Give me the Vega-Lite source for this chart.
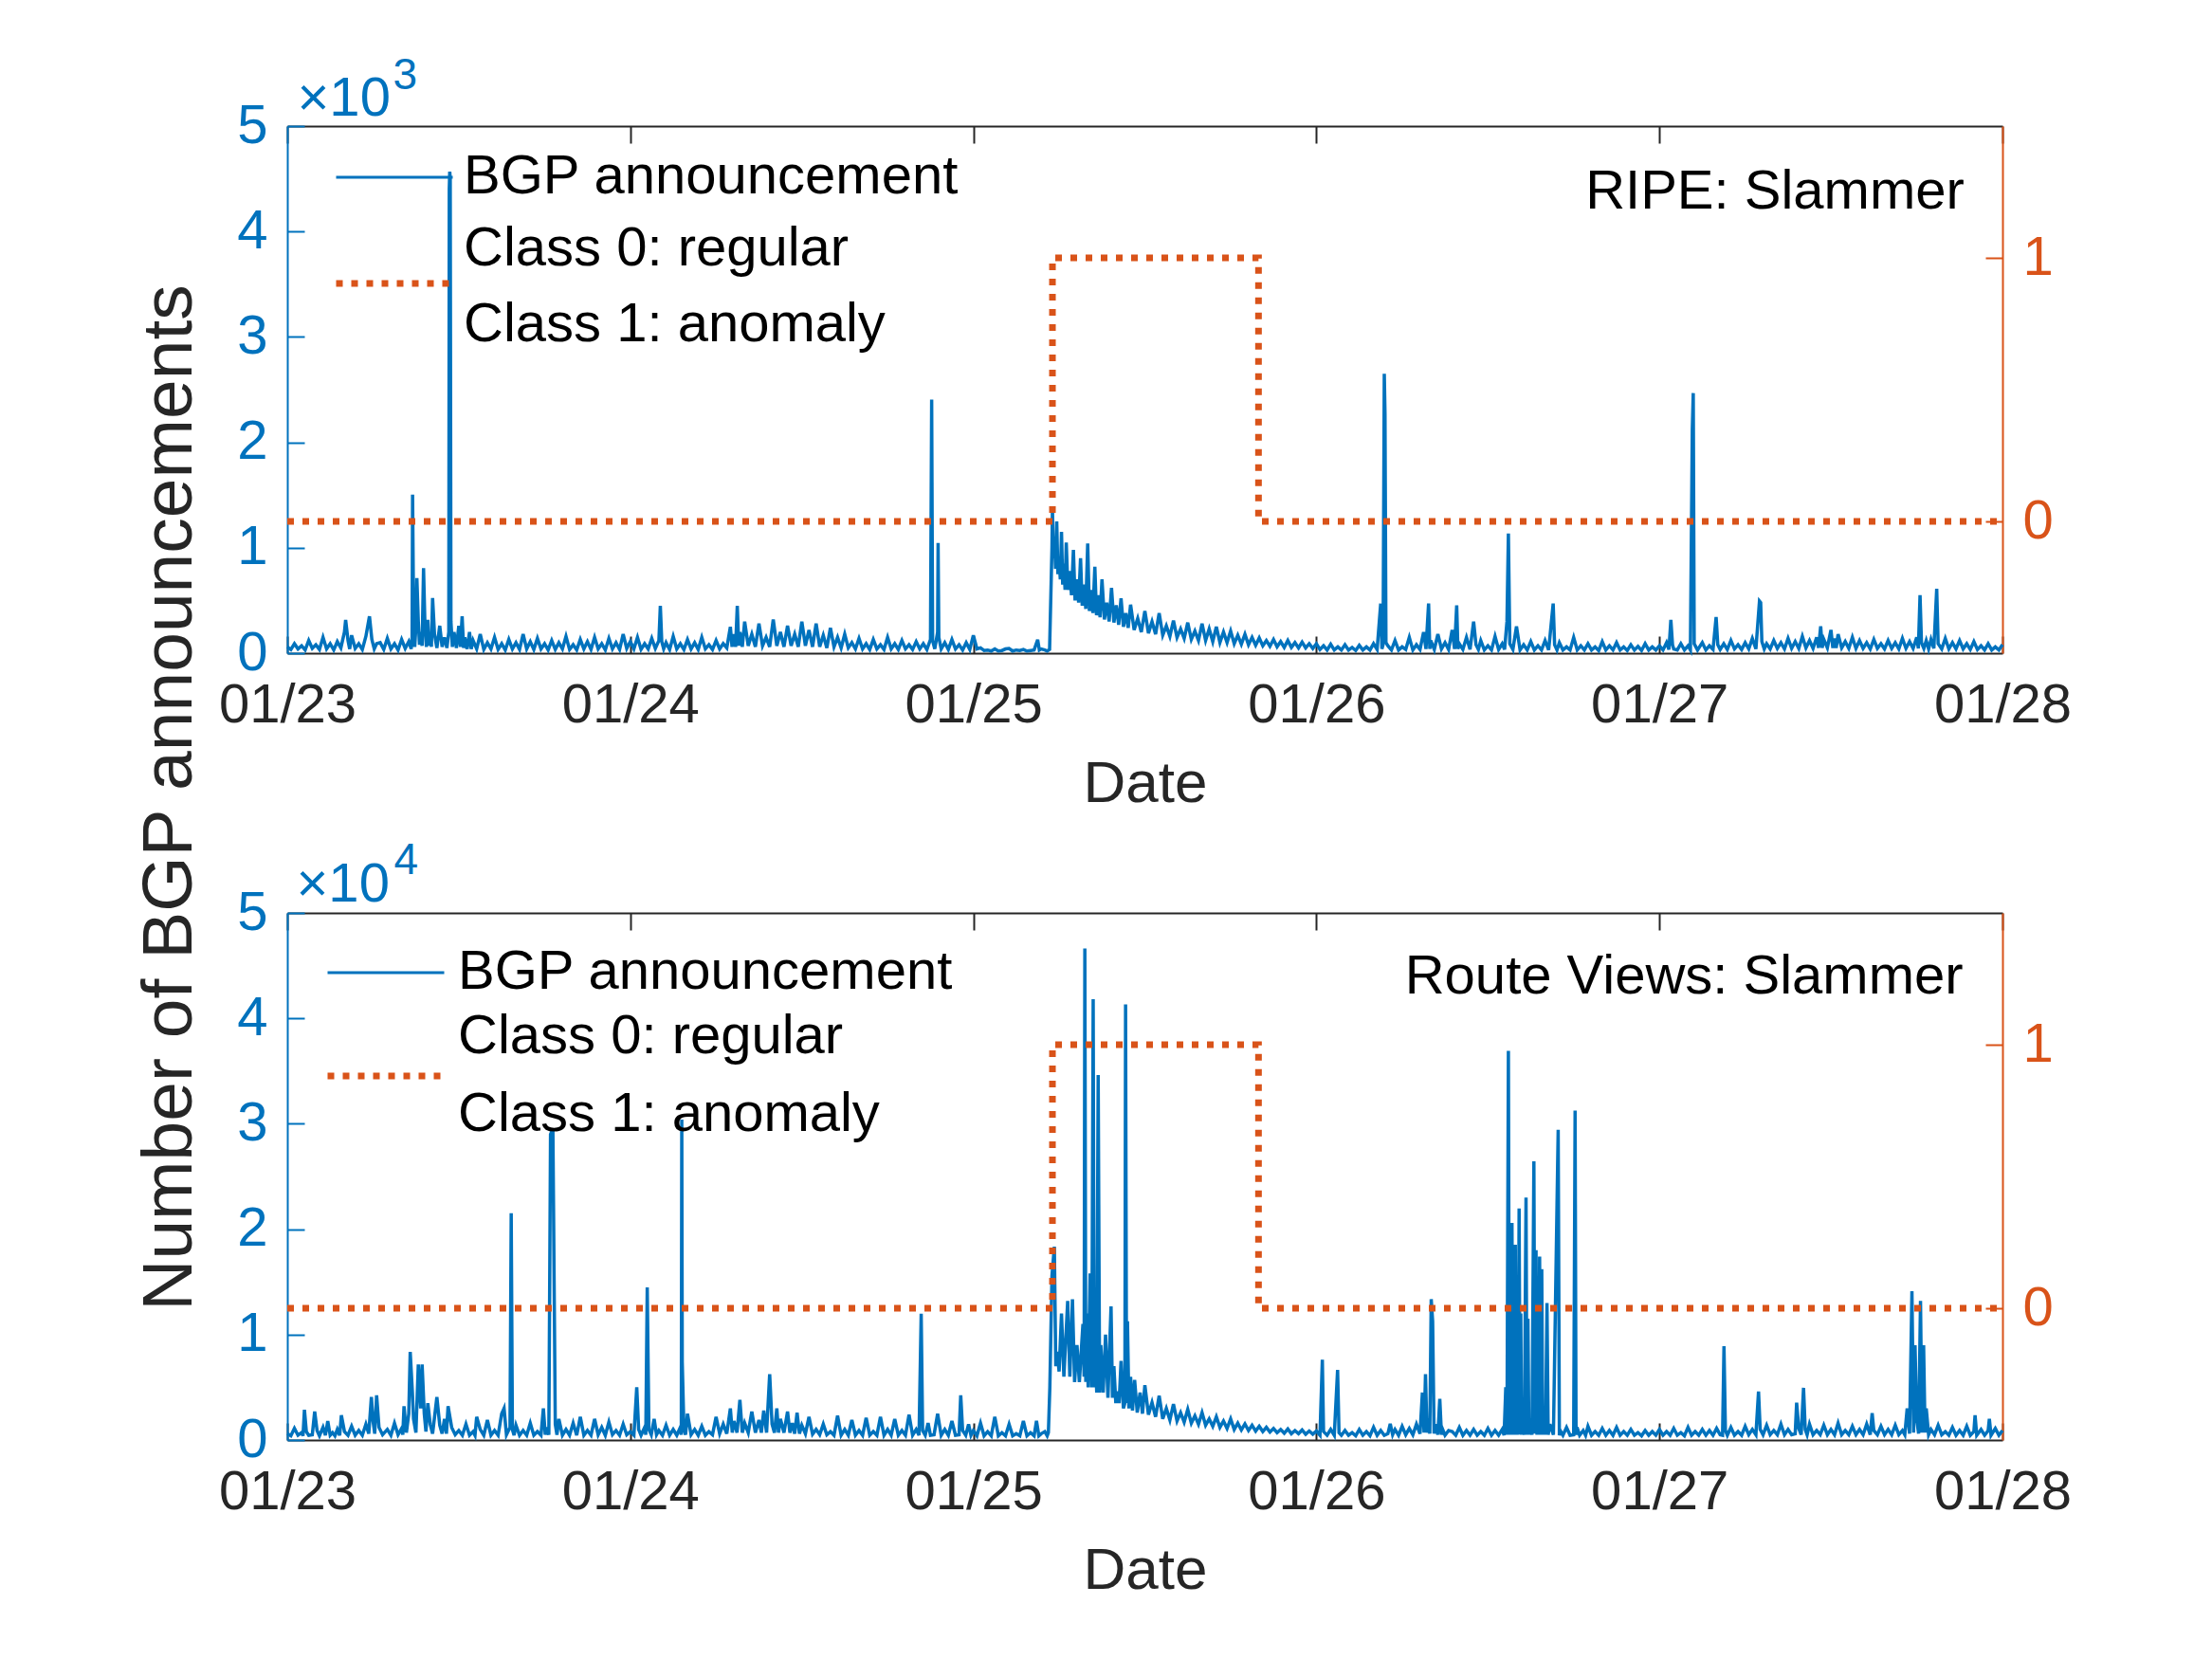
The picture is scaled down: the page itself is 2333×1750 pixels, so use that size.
{
  "$schema": "https://vega.github.io/schema/vega-lite/v6.json",
  "background": "white",
  "padding": {"left": 140, "top": 56, "right": 20, "bottom": 20},
  "bounds": "flush",
  "spacing": 274,
  "config": {
    "font": "Liberation Sans",
    "view": {"stroke": null},
    "axis": {
      "grid": false,
      "labelFontSize": 58,
      "tickSize": -18,
      "tickWidth": 2,
      "domainWidth": 2,
      "titleFontWeight": "normal",
      "labelFlush": false,
      "labelOverlap": false
    }
  },
  "datasets": {
    "cls": [
      {"t": "2003-01-23T00:00", "c": 0},
      {"t": "2003-01-25T05:32", "c": 1},
      {"t": "2003-01-25T19:57", "c": 0},
      {"t": "2003-01-28T00:00", "c": 0}
    ],
    "ripe": [
      {"t":"2003-01-23T00:00","v":60},{"t":"2003-01-23T00:15","v":35},{"t":"2003-01-23T00:30","v":90},{"t":"2003-01-23T00:45","v":40},
      {"t":"2003-01-23T01:00","v":70},{"t":"2003-01-23T01:15","v":30},{"t":"2003-01-23T01:30","v":120},{"t":"2003-01-23T01:45","v":45},
      {"t":"2003-01-23T02:00","v":80},{"t":"2003-01-23T02:15","v":35},{"t":"2003-01-23T02:30","v":150},{"t":"2003-01-23T02:45","v":40},
      {"t":"2003-01-23T03:00","v":90},{"t":"2003-01-23T03:15","v":30},{"t":"2003-01-23T03:30","v":110},{"t":"2003-01-23T03:45","v":50},
      {"t":"2003-01-23T04:00","v":200},{"t":"2003-01-23T04:05","v":316},{"t":"2003-01-23T04:15","v":120},{"t":"2003-01-23T04:22","v":40},
      {"t":"2003-01-23T04:30","v":170},{"t":"2003-01-23T04:45","v":45},{"t":"2003-01-23T05:00","v":90},{"t":"2003-01-23T05:15","v":35},
      {"t":"2003-01-23T05:30","v":160},{"t":"2003-01-23T05:45","v":350},{"t":"2003-01-23T05:55","v":130},{"t":"2003-01-23T06:05","v":40},
      {"t":"2003-01-23T06:15","v":90},{"t":"2003-01-23T06:30","v":100},{"t":"2003-01-23T06:45","v":35},{"t":"2003-01-23T07:00","v":140},
      {"t":"2003-01-23T07:15","v":40},{"t":"2003-01-23T07:30","v":90},{"t":"2003-01-23T07:45","v":30},{"t":"2003-01-23T08:00","v":130},
      {"t":"2003-01-23T08:15","v":45},{"t":"2003-01-23T08:30","v":110},{"t":"2003-01-23T08:40","v":40},{"t":"2003-01-23T08:44","v":150},
      {"t":"2003-01-23T08:46","v":1504},{"t":"2003-01-23T08:50","v":400},{"t":"2003-01-23T08:55","v":60},{"t":"2003-01-23T09:00","v":250},
      {"t":"2003-01-23T09:04","v":712},{"t":"2003-01-23T09:10","v":300},{"t":"2003-01-23T09:15","v":80},{"t":"2003-01-23T09:20","v":200},
      {"t":"2003-01-23T09:26","v":70},{"t":"2003-01-23T09:32","v":806},{"t":"2003-01-23T09:38","v":250},{"t":"2003-01-23T09:44","v":60},
      {"t":"2003-01-23T09:50","v":316},{"t":"2003-01-23T09:55","v":70},{"t":"2003-01-23T10:00","v":200},{"t":"2003-01-23T10:05","v":60},
      {"t":"2003-01-23T10:10","v":523},{"t":"2003-01-23T10:18","v":180},{"t":"2003-01-23T10:28","v":50},{"t":"2003-01-23T10:40","v":260},
      {"t":"2003-01-23T10:50","v":60},{"t":"2003-01-23T11:00","v":150},{"t":"2003-01-23T11:10","v":50},{"t":"2003-01-23T11:18","v":200},
      {"t":"2003-01-23T11:20","v":4400},{"t":"2003-01-23T11:22","v":4567},{"t":"2003-01-23T11:24","v":4500},{"t":"2003-01-23T11:27","v":300},
      {"t":"2003-01-23T11:33","v":60},{"t":"2003-01-23T11:40","v":200},{"t":"2003-01-23T11:50","v":50},{"t":"2003-01-23T12:00","v":260},
      {"t":"2003-01-23T12:07","v":60},{"t":"2003-01-23T12:14","v":350},{"t":"2003-01-23T12:20","v":50},{"t":"2003-01-23T12:25","v":150},
      {"t":"2003-01-23T12:35","v":40},{"t":"2003-01-23T12:45","v":200},{"t":"2003-01-23T12:52","v":40},{"t":"2003-01-23T13:00","v":120},
      {"t":"2003-01-23T13:15","v":40},{"t":"2003-01-23T13:30","v":180},{"t":"2003-01-23T13:45","v":35},{"t":"2003-01-23T14:00","v":100},
      {"t":"2003-01-23T14:15","v":40},{"t":"2003-01-23T14:30","v":150},{"t":"2003-01-23T14:45","v":35},{"t":"2003-01-23T15:00","v":90},
      {"t":"2003-01-23T15:15","v":30},{"t":"2003-01-23T15:30","v":130},{"t":"2003-01-23T15:45","v":40},{"t":"2003-01-23T16:00","v":100},
      {"t":"2003-01-23T16:15","v":35},{"t":"2003-01-23T16:30","v":180},{"t":"2003-01-23T16:45","v":40},{"t":"2003-01-23T17:00","v":110},
      {"t":"2003-01-23T17:15","v":35},{"t":"2003-01-23T17:30","v":140},{"t":"2003-01-23T17:45","v":40},{"t":"2003-01-23T18:00","v":90},
      {"t":"2003-01-23T18:15","v":30},{"t":"2003-01-23T18:30","v":120},{"t":"2003-01-23T18:45","v":35},{"t":"2003-01-23T19:00","v":100},
      {"t":"2003-01-23T19:15","v":40},{"t":"2003-01-23T19:30","v":160},{"t":"2003-01-23T19:45","v":35},{"t":"2003-01-23T20:00","v":80},
      {"t":"2003-01-23T20:15","v":30},{"t":"2003-01-23T20:30","v":130},{"t":"2003-01-23T20:45","v":40},{"t":"2003-01-23T21:00","v":110},
      {"t":"2003-01-23T21:15","v":35},{"t":"2003-01-23T21:30","v":150},{"t":"2003-01-23T21:45","v":40},{"t":"2003-01-23T22:00","v":90},
      {"t":"2003-01-23T22:15","v":30},{"t":"2003-01-23T22:30","v":140},{"t":"2003-01-23T22:45","v":40},{"t":"2003-01-23T23:00","v":100},
      {"t":"2003-01-23T23:15","v":35},{"t":"2003-01-23T23:30","v":180},{"t":"2003-01-23T23:45","v":45},
      {"t":"2003-01-24T00:00","v":110},{"t":"2003-01-24T00:15","v":40},{"t":"2003-01-24T00:30","v":150},{"t":"2003-01-24T00:45","v":35},
      {"t":"2003-01-24T01:00","v":90},{"t":"2003-01-24T01:15","v":40},{"t":"2003-01-24T01:30","v":140},{"t":"2003-01-24T01:45","v":45},
      {"t":"2003-01-24T02:00","v":120},{"t":"2003-01-24T02:06","v":448},{"t":"2003-01-24T02:12","v":110},{"t":"2003-01-24T02:20","v":40},
      {"t":"2003-01-24T02:30","v":100},{"t":"2003-01-24T02:45","v":35},{"t":"2003-01-24T03:00","v":160},{"t":"2003-01-24T03:15","v":40},
      {"t":"2003-01-24T03:30","v":90},{"t":"2003-01-24T03:45","v":35},{"t":"2003-01-24T04:00","v":130},{"t":"2003-01-24T04:15","v":40},
      {"t":"2003-01-24T04:30","v":100},{"t":"2003-01-24T04:45","v":35},{"t":"2003-01-24T05:00","v":150},{"t":"2003-01-24T05:15","v":40},
      {"t":"2003-01-24T05:30","v":80},{"t":"2003-01-24T05:45","v":35},{"t":"2003-01-24T06:00","v":120},{"t":"2003-01-24T06:15","v":40},
      {"t":"2003-01-24T06:30","v":90},{"t":"2003-01-24T06:45","v":50},{"t":"2003-01-24T07:00","v":250},{"t":"2003-01-24T07:07","v":60},
      {"t":"2003-01-24T07:15","v":180},{"t":"2003-01-24T07:22","v":60},{"t":"2003-01-24T07:29","v":448},{"t":"2003-01-24T07:35","v":70},
      {"t":"2003-01-24T07:40","v":200},{"t":"2003-01-24T07:50","v":60},{"t":"2003-01-24T08:00","v":300},{"t":"2003-01-24T08:15","v":70},
      {"t":"2003-01-24T08:30","v":180},{"t":"2003-01-24T08:45","v":60},{"t":"2003-01-24T09:00","v":280},{"t":"2003-01-24T09:15","v":70},
      {"t":"2003-01-24T09:30","v":150},{"t":"2003-01-24T09:45","v":60},{"t":"2003-01-24T10:00","v":320},{"t":"2003-01-24T10:15","v":70},
      {"t":"2003-01-24T10:30","v":200},{"t":"2003-01-24T10:45","v":60},{"t":"2003-01-24T11:00","v":260},{"t":"2003-01-24T11:15","v":70},
      {"t":"2003-01-24T11:30","v":180},{"t":"2003-01-24T11:45","v":60},{"t":"2003-01-24T12:00","v":300},{"t":"2003-01-24T12:15","v":70},
      {"t":"2003-01-24T12:30","v":220},{"t":"2003-01-24T12:45","v":60},{"t":"2003-01-24T13:00","v":280},{"t":"2003-01-24T13:15","v":60},
      {"t":"2003-01-24T13:30","v":170},{"t":"2003-01-24T13:45","v":50},{"t":"2003-01-24T14:00","v":240},{"t":"2003-01-24T14:15","v":60},
      {"t":"2003-01-24T14:30","v":150},{"t":"2003-01-24T14:45","v":50},{"t":"2003-01-24T15:00","v":180},{"t":"2003-01-24T15:15","v":50},
      {"t":"2003-01-24T15:30","v":100},{"t":"2003-01-24T15:45","v":40},{"t":"2003-01-24T16:00","v":140},{"t":"2003-01-24T16:15","v":40},
      {"t":"2003-01-24T16:30","v":90},{"t":"2003-01-24T16:45","v":35},{"t":"2003-01-24T17:00","v":130},{"t":"2003-01-24T17:15","v":40},
      {"t":"2003-01-24T17:30","v":80},{"t":"2003-01-24T17:45","v":35},{"t":"2003-01-24T18:00","v":150},{"t":"2003-01-24T18:15","v":40},
      {"t":"2003-01-24T18:30","v":90},{"t":"2003-01-24T18:45","v":35},{"t":"2003-01-24T19:00","v":120},{"t":"2003-01-24T19:15","v":40},
      {"t":"2003-01-24T19:30","v":80},{"t":"2003-01-24T19:45","v":35},{"t":"2003-01-24T20:00","v":110},{"t":"2003-01-24T20:15","v":40},
      {"t":"2003-01-24T20:30","v":90},{"t":"2003-01-24T20:45","v":35},{"t":"2003-01-24T21:00","v":130},{"t":"2003-01-24T21:05","v":2405},
      {"t":"2003-01-24T21:09","v":120},{"t":"2003-01-24T21:18","v":40},{"t":"2003-01-24T21:30","v":200},{"t":"2003-01-24T21:32","v":1046},
      {"t":"2003-01-24T21:35","v":150},{"t":"2003-01-24T21:45","v":40},{"t":"2003-01-24T22:00","v":100},{"t":"2003-01-24T22:15","v":35},
      {"t":"2003-01-24T22:30","v":130},{"t":"2003-01-24T22:45","v":40},{"t":"2003-01-24T23:00","v":80},{"t":"2003-01-24T23:15","v":30},
      {"t":"2003-01-24T23:30","v":100},{"t":"2003-01-24T23:45","v":35},
      {"t":"2003-01-25T00:00","v":170},{"t":"2003-01-25T00:15","v":40},{"t":"2003-01-25T00:30","v":50},{"t":"2003-01-25T00:45","v":25},
      {"t":"2003-01-25T01:00","v":30},{"t":"2003-01-25T01:15","v":20},{"t":"2003-01-25T01:30","v":40},{"t":"2003-01-25T01:45","v":20},
      {"t":"2003-01-25T02:00","v":25},{"t":"2003-01-25T02:15","v":40},{"t":"2003-01-25T02:30","v":45},{"t":"2003-01-25T02:45","v":20},
      {"t":"2003-01-25T03:00","v":30},{"t":"2003-01-25T03:15","v":25},{"t":"2003-01-25T03:30","v":35},{"t":"2003-01-25T03:45","v":20},
      {"t":"2003-01-25T04:00","v":25},{"t":"2003-01-25T04:15","v":30},{"t":"2003-01-25T04:30","v":128},{"t":"2003-01-25T04:37","v":30},
      {"t":"2003-01-25T04:45","v":40},{"t":"2003-01-25T05:00","v":30},{"t":"2003-01-25T05:10","v":20},{"t":"2003-01-25T05:20","v":35},
      {"t":"2003-01-25T05:30","v":1000},{"t":"2003-01-25T05:32","v":1366},{"t":"2003-01-25T05:36","v":900},{"t":"2003-01-25T05:40","v":1100},
      {"t":"2003-01-25T05:45","v":800},{"t":"2003-01-25T05:50","v":1250},{"t":"2003-01-25T05:55","v":750},{"t":"2003-01-25T06:00","v":900},
      {"t":"2003-01-25T06:05","v":700},{"t":"2003-01-25T06:10","v":1150},{"t":"2003-01-25T06:15","v":650},{"t":"2003-01-25T06:20","v":850},
      {"t":"2003-01-25T06:25","v":600},{"t":"2003-01-25T06:30","v":1050},{"t":"2003-01-25T06:37","v":600},{"t":"2003-01-25T06:45","v":780},
      {"t":"2003-01-25T06:52","v":550},{"t":"2003-01-25T07:00","v":980},{"t":"2003-01-25T07:07","v":500},{"t":"2003-01-25T07:15","v":700},
      {"t":"2003-01-25T07:22","v":480},{"t":"2003-01-25T07:30","v":900},{"t":"2003-01-25T07:37","v":450},{"t":"2003-01-25T07:45","v":650},
      {"t":"2003-01-25T07:52","v":420},{"t":"2003-01-25T08:00","v":1040},{"t":"2003-01-25T08:07","v":400},{"t":"2003-01-25T08:15","v":600},
      {"t":"2003-01-25T08:22","v":380},{"t":"2003-01-25T08:30","v":820},{"t":"2003-01-25T08:37","v":360},{"t":"2003-01-25T08:45","v":550},
      {"t":"2003-01-25T08:52","v":340},{"t":"2003-01-25T09:00","v":700},{"t":"2003-01-25T09:10","v":320},{"t":"2003-01-25T09:20","v":480},
      {"t":"2003-01-25T09:30","v":300},{"t":"2003-01-25T09:40","v":620},{"t":"2003-01-25T09:50","v":290},{"t":"2003-01-25T10:00","v":454},
      {"t":"2003-01-25T10:10","v":270},{"t":"2003-01-25T10:20","v":520},{"t":"2003-01-25T10:30","v":250},{"t":"2003-01-25T10:40","v":380},
      {"t":"2003-01-25T10:50","v":240},{"t":"2003-01-25T11:00","v":460},{"t":"2003-01-25T11:15","v":220},{"t":"2003-01-25T11:30","v":330},
      {"t":"2003-01-25T11:45","v":200},{"t":"2003-01-25T12:00","v":400},{"t":"2003-01-25T12:15","v":190},{"t":"2003-01-25T12:30","v":300},
      {"t":"2003-01-25T12:45","v":180},{"t":"2003-01-25T13:00","v":380},{"t":"2003-01-25T13:15","v":170},{"t":"2003-01-25T13:30","v":260},
      {"t":"2003-01-25T13:45","v":160},{"t":"2003-01-25T14:00","v":310},{"t":"2003-01-25T14:15","v":150},{"t":"2003-01-25T14:30","v":230},
      {"t":"2003-01-25T14:45","v":140},{"t":"2003-01-25T15:00","v":290},{"t":"2003-01-25T15:15","v":130},{"t":"2003-01-25T15:30","v":210},
      {"t":"2003-01-25T15:45","v":120},{"t":"2003-01-25T16:00","v":280},{"t":"2003-01-25T16:15","v":120},{"t":"2003-01-25T16:30","v":230},
      {"t":"2003-01-25T16:45","v":110},{"t":"2003-01-25T17:00","v":250},{"t":"2003-01-25T17:15","v":100},{"t":"2003-01-25T17:30","v":200},
      {"t":"2003-01-25T17:45","v":100},{"t":"2003-01-25T18:00","v":210},{"t":"2003-01-25T18:15","v":90},{"t":"2003-01-25T18:30","v":170},
      {"t":"2003-01-25T18:45","v":85},{"t":"2003-01-25T19:00","v":180},{"t":"2003-01-25T19:15","v":80},{"t":"2003-01-25T19:30","v":150},
      {"t":"2003-01-25T19:45","v":75},{"t":"2003-01-25T20:00","v":145},{"t":"2003-01-25T20:15","v":70},{"t":"2003-01-25T20:30","v":120},
      {"t":"2003-01-25T20:45","v":65},{"t":"2003-01-25T21:00","v":130},{"t":"2003-01-25T21:15","v":60},{"t":"2003-01-25T21:30","v":110},
      {"t":"2003-01-25T21:45","v":55},{"t":"2003-01-25T22:00","v":120},{"t":"2003-01-25T22:15","v":55},{"t":"2003-01-25T22:30","v":100},
      {"t":"2003-01-25T22:45","v":50},{"t":"2003-01-25T23:00","v":105},{"t":"2003-01-25T23:15","v":50},{"t":"2003-01-25T23:30","v":90},
      {"t":"2003-01-25T23:45","v":45},
      {"t":"2003-01-26T00:00","v":90},{"t":"2003-01-26T00:15","v":35},{"t":"2003-01-26T00:30","v":70},{"t":"2003-01-26T00:45","v":30},
      {"t":"2003-01-26T01:00","v":85},{"t":"2003-01-26T01:15","v":30},{"t":"2003-01-26T01:30","v":60},{"t":"2003-01-26T01:45","v":30},
      {"t":"2003-01-26T02:00","v":80},{"t":"2003-01-26T02:15","v":30},{"t":"2003-01-26T02:30","v":55},{"t":"2003-01-26T02:45","v":25},
      {"t":"2003-01-26T03:00","v":75},{"t":"2003-01-26T03:15","v":30},{"t":"2003-01-26T03:30","v":60},{"t":"2003-01-26T03:45","v":30},
      {"t":"2003-01-26T04:00","v":90},{"t":"2003-01-26T04:15","v":35},{"t":"2003-01-26T04:30","v":470},{"t":"2003-01-26T04:35","v":40},
      {"t":"2003-01-26T04:40","v":80},{"t":"2003-01-26T04:45","v":2650},{"t":"2003-01-26T04:48","v":2270},{"t":"2003-01-26T04:52","v":100},
      {"t":"2003-01-26T05:00","v":70},{"t":"2003-01-26T05:15","v":30},{"t":"2003-01-26T05:30","v":120},{"t":"2003-01-26T05:45","v":30},
      {"t":"2003-01-26T06:00","v":60},{"t":"2003-01-26T06:15","v":35},{"t":"2003-01-26T06:30","v":150},{"t":"2003-01-26T06:45","v":30},
      {"t":"2003-01-26T07:00","v":80},{"t":"2003-01-26T07:15","v":35},{"t":"2003-01-26T07:30","v":200},{"t":"2003-01-26T07:40","v":40},
      {"t":"2003-01-26T07:51","v":471},{"t":"2003-01-26T07:56","v":40},{"t":"2003-01-26T08:00","v":120},{"t":"2003-01-26T08:15","v":35},
      {"t":"2003-01-26T08:30","v":180},{"t":"2003-01-26T08:45","v":40},{"t":"2003-01-26T09:00","v":100},{"t":"2003-01-26T09:15","v":35},
      {"t":"2003-01-26T09:30","v":220},{"t":"2003-01-26T09:40","v":40},{"t":"2003-01-26T09:49","v":454},{"t":"2003-01-26T09:54","v":40},
      {"t":"2003-01-26T10:00","v":90},{"t":"2003-01-26T10:15","v":35},{"t":"2003-01-26T10:30","v":150},{"t":"2003-01-26T10:45","v":35},
      {"t":"2003-01-26T11:00","v":300},{"t":"2003-01-26T11:10","v":80},{"t":"2003-01-26T11:20","v":35},{"t":"2003-01-26T11:30","v":120},
      {"t":"2003-01-26T11:45","v":30},{"t":"2003-01-26T12:00","v":70},{"t":"2003-01-26T12:15","v":30},{"t":"2003-01-26T12:30","v":160},
      {"t":"2003-01-26T12:45","v":35},{"t":"2003-01-26T13:00","v":90},{"t":"2003-01-26T13:10","v":35},{"t":"2003-01-26T13:20","v":300},
      {"t":"2003-01-26T13:26","v":1135},{"t":"2003-01-26T13:32","v":90},{"t":"2003-01-26T13:45","v":35},{"t":"2003-01-26T14:00","v":255},
      {"t":"2003-01-26T14:15","v":30},{"t":"2003-01-26T14:30","v":80},{"t":"2003-01-26T14:45","v":30},{"t":"2003-01-26T15:00","v":110},
      {"t":"2003-01-26T15:15","v":30},{"t":"2003-01-26T15:30","v":70},{"t":"2003-01-26T15:45","v":30},{"t":"2003-01-26T16:00","v":120},
      {"t":"2003-01-26T16:15","v":30},{"t":"2003-01-26T16:34","v":471},{"t":"2003-01-26T16:40","v":80},{"t":"2003-01-26T16:50","v":30},
      {"t":"2003-01-26T17:00","v":100},{"t":"2003-01-26T17:15","v":30},{"t":"2003-01-26T17:30","v":60},{"t":"2003-01-26T17:45","v":30},
      {"t":"2003-01-26T18:00","v":150},{"t":"2003-01-26T18:15","v":30},{"t":"2003-01-26T18:30","v":70},{"t":"2003-01-26T18:45","v":30},
      {"t":"2003-01-26T19:00","v":90},{"t":"2003-01-26T19:15","v":30},{"t":"2003-01-26T19:30","v":60},{"t":"2003-01-26T19:45","v":25},
      {"t":"2003-01-26T20:00","v":110},{"t":"2003-01-26T20:15","v":30},{"t":"2003-01-26T20:30","v":70},{"t":"2003-01-26T20:45","v":30},
      {"t":"2003-01-26T21:00","v":100},{"t":"2003-01-26T21:15","v":30},{"t":"2003-01-26T21:30","v":60},{"t":"2003-01-26T21:45","v":25},
      {"t":"2003-01-26T22:00","v":80},{"t":"2003-01-26T22:15","v":30},{"t":"2003-01-26T22:30","v":65},{"t":"2003-01-26T22:45","v":25},
      {"t":"2003-01-26T23:00","v":90},{"t":"2003-01-26T23:15","v":30},{"t":"2003-01-26T23:30","v":60},{"t":"2003-01-26T23:45","v":30},
      {"t":"2003-01-27T00:00","v":70},{"t":"2003-01-27T00:15","v":30},{"t":"2003-01-27T00:30","v":100},{"t":"2003-01-27T00:40","v":35},
      {"t":"2003-01-27T00:48","v":316},{"t":"2003-01-27T00:55","v":80},{"t":"2003-01-27T01:00","v":40},{"t":"2003-01-27T01:15","v":30},
      {"t":"2003-01-27T01:30","v":90},{"t":"2003-01-27T01:45","v":30},{"t":"2003-01-27T02:00","v":70},{"t":"2003-01-27T02:10","v":30},
      {"t":"2003-01-27T02:18","v":2120},{"t":"2003-01-27T02:22","v":2467},{"t":"2003-01-27T02:26","v":90},{"t":"2003-01-27T02:40","v":30},
      {"t":"2003-01-27T03:00","v":100},{"t":"2003-01-27T03:15","v":30},{"t":"2003-01-27T03:30","v":70},{"t":"2003-01-27T03:45","v":35},
      {"t":"2003-01-27T03:58","v":342},{"t":"2003-01-27T04:05","v":80},{"t":"2003-01-27T04:15","v":35},{"t":"2003-01-27T04:30","v":90},
      {"t":"2003-01-27T04:45","v":35},{"t":"2003-01-27T05:00","v":120},{"t":"2003-01-27T05:15","v":40},{"t":"2003-01-27T05:30","v":80},
      {"t":"2003-01-27T05:45","v":35},{"t":"2003-01-27T06:00","v":100},{"t":"2003-01-27T06:15","v":40},{"t":"2003-01-27T06:30","v":140},
      {"t":"2003-01-27T06:45","v":40},{"t":"2003-01-27T07:00","v":494},{"t":"2003-01-27T07:05","v":480},{"t":"2003-01-27T07:10","v":110},
      {"t":"2003-01-27T07:20","v":40},{"t":"2003-01-27T07:30","v":90},{"t":"2003-01-27T07:45","v":40},{"t":"2003-01-27T08:00","v":120},
      {"t":"2003-01-27T08:15","v":45},{"t":"2003-01-27T08:30","v":100},{"t":"2003-01-27T08:45","v":40},{"t":"2003-01-27T09:00","v":140},
      {"t":"2003-01-27T09:15","v":45},{"t":"2003-01-27T09:30","v":110},{"t":"2003-01-27T09:45","v":45},{"t":"2003-01-27T10:00","v":160},
      {"t":"2003-01-27T10:15","v":50},{"t":"2003-01-27T10:30","v":120},{"t":"2003-01-27T10:45","v":45},{"t":"2003-01-27T11:00","v":150},
      {"t":"2003-01-27T11:08","v":50},{"t":"2003-01-27T11:17","v":255},{"t":"2003-01-27T11:23","v":50},{"t":"2003-01-27T11:30","v":130},
      {"t":"2003-01-27T11:45","v":50},{"t":"2003-01-27T12:00","v":220},{"t":"2003-01-27T12:08","v":50},{"t":"2003-01-27T12:15","v":140},
      {"t":"2003-01-27T12:22","v":50},{"t":"2003-01-27T12:30","v":180},{"t":"2003-01-27T12:45","v":50},{"t":"2003-01-27T13:00","v":110},
      {"t":"2003-01-27T13:15","v":45},{"t":"2003-01-27T13:30","v":150},{"t":"2003-01-27T13:45","v":45},{"t":"2003-01-27T14:00","v":120},
      {"t":"2003-01-27T14:15","v":45},{"t":"2003-01-27T14:30","v":100},{"t":"2003-01-27T14:45","v":40},{"t":"2003-01-27T15:00","v":130},
      {"t":"2003-01-27T15:15","v":45},{"t":"2003-01-27T15:30","v":90},{"t":"2003-01-27T15:45","v":40},{"t":"2003-01-27T16:00","v":120},
      {"t":"2003-01-27T16:15","v":45},{"t":"2003-01-27T16:30","v":100},{"t":"2003-01-27T16:45","v":40},{"t":"2003-01-27T17:00","v":140},
      {"t":"2003-01-27T17:15","v":45},{"t":"2003-01-27T17:30","v":110},{"t":"2003-01-27T17:45","v":45},{"t":"2003-01-27T18:00","v":150},
      {"t":"2003-01-27T18:07","v":45},{"t":"2003-01-27T18:14","v":551},{"t":"2003-01-27T18:20","v":100},{"t":"2003-01-27T18:30","v":45},
      {"t":"2003-01-27T18:40","v":120},{"t":"2003-01-27T18:50","v":40},{"t":"2003-01-27T19:00","v":130},{"t":"2003-01-27T19:12","v":45},
      {"t":"2003-01-27T19:24","v":611},{"t":"2003-01-27T19:30","v":90},{"t":"2003-01-27T19:45","v":40},{"t":"2003-01-27T20:00","v":140},
      {"t":"2003-01-27T20:15","v":40},{"t":"2003-01-27T20:30","v":100},{"t":"2003-01-27T20:45","v":40},{"t":"2003-01-27T21:00","v":120},
      {"t":"2003-01-27T21:15","v":40},{"t":"2003-01-27T21:30","v":90},{"t":"2003-01-27T21:45","v":35},{"t":"2003-01-27T22:00","v":110},
      {"t":"2003-01-27T22:15","v":35},{"t":"2003-01-27T22:30","v":70},{"t":"2003-01-27T22:45","v":30},{"t":"2003-01-27T23:00","v":90},
      {"t":"2003-01-27T23:15","v":30},{"t":"2003-01-27T23:30","v":60},{"t":"2003-01-27T23:45","v":30},{"t":"2003-01-28T00:00","v":80}
    ],
    "rv": [
      {"t":"2003-01-23T00:00","v":600},{"t":"2003-01-23T00:15","v":400},{"t":"2003-01-23T00:30","v":1100},{"t":"2003-01-23T00:45","v":450},
      {"t":"2003-01-23T01:00","v":700},{"t":"2003-01-23T01:06","v":400},{"t":"2003-01-23T01:12","v":2870},{"t":"2003-01-23T01:20","v":800},
      {"t":"2003-01-23T01:30","v":450},{"t":"2003-01-23T01:45","v":500},{"t":"2003-01-23T01:55","v":2700},{"t":"2003-01-23T02:05","v":900},
      {"t":"2003-01-23T02:15","v":400},{"t":"2003-01-23T02:30","v":1200},{"t":"2003-01-23T02:40","v":450},{"t":"2003-01-23T02:50","v":1800},
      {"t":"2003-01-23T03:00","v":450},{"t":"2003-01-23T03:10","v":700},{"t":"2003-01-23T03:20","v":400},{"t":"2003-01-23T03:30","v":1000},
      {"t":"2003-01-23T03:40","v":450},{"t":"2003-01-23T03:47","v":2350},{"t":"2003-01-23T04:00","v":800},{"t":"2003-01-23T04:15","v":450},
      {"t":"2003-01-23T04:30","v":1300},{"t":"2003-01-23T04:45","v":450},{"t":"2003-01-23T05:00","v":900},{"t":"2003-01-23T05:15","v":450},
      {"t":"2003-01-23T05:30","v":1500},{"t":"2003-01-23T05:42","v":600},{"t":"2003-01-23T05:53","v":4070},{"t":"2003-01-23T06:00","v":1800},
      {"t":"2003-01-23T06:07","v":600},{"t":"2003-01-23T06:15","v":4240},{"t":"2003-01-23T06:25","v":1200},{"t":"2003-01-23T06:40","v":500},
      {"t":"2003-01-23T07:00","v":1000},{"t":"2003-01-23T07:15","v":450},{"t":"2003-01-23T07:30","v":1600},{"t":"2003-01-23T07:45","v":500},
      {"t":"2003-01-23T08:00","v":1100},{"t":"2003-01-23T08:05","v":500},{"t":"2003-01-23T08:10","v":3200},{"t":"2003-01-23T08:20","v":700},
      {"t":"2003-01-23T08:30","v":2500},{"t":"2003-01-23T08:36","v":8360},{"t":"2003-01-23T08:45","v":4600},{"t":"2003-01-23T08:50","v":2000},
      {"t":"2003-01-23T09:00","v":700},{"t":"2003-01-23T09:10","v":7160},{"t":"2003-01-23T09:20","v":3000},{"t":"2003-01-23T09:26","v":7160},
      {"t":"2003-01-23T09:35","v":2500},{"t":"2003-01-23T09:42","v":800},{"t":"2003-01-23T09:50","v":3500},{"t":"2003-01-23T10:00","v":1500},
      {"t":"2003-01-23T10:10","v":600},{"t":"2003-01-23T10:28","v":4070},{"t":"2003-01-23T10:40","v":1400},{"t":"2003-01-23T10:50","v":600},
      {"t":"2003-01-23T11:00","v":2000},{"t":"2003-01-23T11:08","v":600},{"t":"2003-01-23T11:15","v":3200},{"t":"2003-01-23T11:30","v":1200},
      {"t":"2003-01-23T11:45","v":500},{"t":"2003-01-23T12:00","v":900},{"t":"2003-01-23T12:15","v":450},{"t":"2003-01-23T12:30","v":1500},
      {"t":"2003-01-23T12:45","v":450},{"t":"2003-01-23T13:00","v":800},{"t":"2003-01-23T13:08","v":450},{"t":"2003-01-23T13:15","v":2200},
      {"t":"2003-01-23T13:30","v":1000},{"t":"2003-01-23T13:45","v":450},{"t":"2003-01-23T14:00","v":1900},{"t":"2003-01-23T14:15","v":450},
      {"t":"2003-01-23T14:30","v":900},{"t":"2003-01-23T14:45","v":450},{"t":"2003-01-23T15:00","v":2500},{"t":"2003-01-23T15:10","v":3000},
      {"t":"2003-01-23T15:20","v":500},{"t":"2003-01-23T15:35","v":1200},{"t":"2003-01-23T15:40","v":21510},{"t":"2003-01-23T15:45","v":1000},
      {"t":"2003-01-23T15:52","v":450},{"t":"2003-01-23T16:00","v":1400},{"t":"2003-01-23T16:15","v":450},{"t":"2003-01-23T16:30","v":900},
      {"t":"2003-01-23T16:45","v":450},{"t":"2003-01-23T17:00","v":1600},{"t":"2003-01-23T17:15","v":450},{"t":"2003-01-23T17:30","v":800},
      {"t":"2003-01-23T17:45","v":450},{"t":"2003-01-23T17:55","v":3000},{"t":"2003-01-23T18:03","v":500},{"t":"2003-01-23T18:10","v":1200},
      {"t":"2003-01-23T18:18","v":500},{"t":"2003-01-23T18:25","v":29000},{"t":"2003-01-23T18:35","v":29530},{"t":"2003-01-23T18:45","v":1500},
      {"t":"2003-01-23T18:52","v":500},{"t":"2003-01-23T19:00","v":2000},{"t":"2003-01-23T19:15","v":450},{"t":"2003-01-23T19:30","v":1000},
      {"t":"2003-01-23T19:45","v":450},{"t":"2003-01-23T20:00","v":1600},{"t":"2003-01-23T20:15","v":450},{"t":"2003-01-23T20:30","v":2200},
      {"t":"2003-01-23T20:45","v":450},{"t":"2003-01-23T21:00","v":900},{"t":"2003-01-23T21:15","v":450},{"t":"2003-01-23T21:30","v":2000},
      {"t":"2003-01-23T21:45","v":500},{"t":"2003-01-23T22:00","v":1200},{"t":"2003-01-23T22:15","v":450},{"t":"2003-01-23T22:30","v":1700},
      {"t":"2003-01-23T22:45","v":500},{"t":"2003-01-23T23:00","v":900},{"t":"2003-01-23T23:15","v":450},{"t":"2003-01-23T23:30","v":1500},
      {"t":"2003-01-23T23:45","v":500},
      {"t":"2003-01-24T00:00","v":800},{"t":"2003-01-24T00:15","v":450},{"t":"2003-01-24T00:27","v":5000},{"t":"2003-01-24T00:35","v":1000},
      {"t":"2003-01-24T00:45","v":450},{"t":"2003-01-24T01:00","v":1200},{"t":"2003-01-24T01:05","v":500},{"t":"2003-01-24T01:11","v":14470},
      {"t":"2003-01-24T01:18","v":1000},{"t":"2003-01-24T01:28","v":500},{"t":"2003-01-24T01:40","v":2000},{"t":"2003-01-24T01:50","v":500},
      {"t":"2003-01-24T02:00","v":900},{"t":"2003-01-24T02:15","v":450},{"t":"2003-01-24T02:30","v":1400},{"t":"2003-01-24T02:45","v":450},
      {"t":"2003-01-24T03:00","v":1000},{"t":"2003-01-24T03:15","v":450},{"t":"2003-01-24T03:30","v":1200},{"t":"2003-01-24T03:34","v":500},
      {"t":"2003-01-24T03:36","v":30390},{"t":"2003-01-24T03:38","v":7400},{"t":"2003-01-24T03:45","v":1000},{"t":"2003-01-24T03:52","v":500},
      {"t":"2003-01-24T04:00","v":2500},{"t":"2003-01-24T04:15","v":500},{"t":"2003-01-24T04:30","v":1000},{"t":"2003-01-24T04:45","v":450},
      {"t":"2003-01-24T05:00","v":1300},{"t":"2003-01-24T05:15","v":450},{"t":"2003-01-24T05:30","v":800},{"t":"2003-01-24T05:45","v":500},
      {"t":"2003-01-24T06:00","v":2200},{"t":"2003-01-24T06:15","v":600},{"t":"2003-01-24T06:30","v":1500},{"t":"2003-01-24T06:45","v":600},
      {"t":"2003-01-24T07:00","v":3000},{"t":"2003-01-24T07:08","v":700},{"t":"2003-01-24T07:15","v":1800},{"t":"2003-01-24T07:28","v":700},
      {"t":"2003-01-24T07:40","v":3800},{"t":"2003-01-24T07:50","v":700},{"t":"2003-01-24T08:00","v":1600},{"t":"2003-01-24T08:15","v":700},
      {"t":"2003-01-24T08:30","v":2700},{"t":"2003-01-24T08:45","v":700},{"t":"2003-01-24T09:00","v":1900},{"t":"2003-01-24T09:10","v":700},
      {"t":"2003-01-24T09:20","v":2800},{"t":"2003-01-24T09:32","v":700},{"t":"2003-01-24T09:45","v":6240},{"t":"2003-01-24T09:55","v":1500},
      {"t":"2003-01-24T10:05","v":700},{"t":"2003-01-24T10:15","v":3000},{"t":"2003-01-24T10:22","v":700},{"t":"2003-01-24T10:30","v":2000},
      {"t":"2003-01-24T10:45","v":700},{"t":"2003-01-24T11:00","v":2700},{"t":"2003-01-24T11:10","v":700},{"t":"2003-01-24T11:20","v":1600},
      {"t":"2003-01-24T11:30","v":600},{"t":"2003-01-24T11:40","v":2600},{"t":"2003-01-24T11:50","v":600},{"t":"2003-01-24T12:00","v":1400},
      {"t":"2003-01-24T12:15","v":600},{"t":"2003-01-24T12:30","v":2200},{"t":"2003-01-24T12:45","v":550},{"t":"2003-01-24T13:00","v":1000},
      {"t":"2003-01-24T13:15","v":500},{"t":"2003-01-24T13:30","v":1500},{"t":"2003-01-24T13:45","v":500},{"t":"2003-01-24T14:00","v":800},
      {"t":"2003-01-24T14:15","v":450},{"t":"2003-01-24T14:30","v":2300},{"t":"2003-01-24T14:45","v":450},{"t":"2003-01-24T15:00","v":1000},
      {"t":"2003-01-24T15:15","v":450},{"t":"2003-01-24T15:30","v":1900},{"t":"2003-01-24T15:45","v":450},{"t":"2003-01-24T16:00","v":900},
      {"t":"2003-01-24T16:15","v":450},{"t":"2003-01-24T16:30","v":2100},{"t":"2003-01-24T16:45","v":450},{"t":"2003-01-24T17:00","v":800},
      {"t":"2003-01-24T17:15","v":450},{"t":"2003-01-24T17:30","v":2200},{"t":"2003-01-24T17:45","v":450},{"t":"2003-01-24T18:00","v":1000},
      {"t":"2003-01-24T18:15","v":450},{"t":"2003-01-24T18:30","v":2000},{"t":"2003-01-24T18:45","v":450},{"t":"2003-01-24T19:00","v":900},
      {"t":"2003-01-24T19:15","v":450},{"t":"2003-01-24T19:30","v":2400},{"t":"2003-01-24T19:45","v":450},{"t":"2003-01-24T20:00","v":1000},
      {"t":"2003-01-24T20:12","v":450},{"t":"2003-01-24T20:21","v":11980},{"t":"2003-01-24T20:27","v":900},{"t":"2003-01-24T20:38","v":450},
      {"t":"2003-01-24T20:50","v":1600},{"t":"2003-01-24T21:00","v":450},{"t":"2003-01-24T21:15","v":500},{"t":"2003-01-24T21:30","v":2500},
      {"t":"2003-01-24T21:45","v":450},{"t":"2003-01-24T22:00","v":1000},{"t":"2003-01-24T22:15","v":450},{"t":"2003-01-24T22:30","v":1800},
      {"t":"2003-01-24T22:45","v":450},{"t":"2003-01-24T23:00","v":500},{"t":"2003-01-24T23:07","v":4240},{"t":"2003-01-24T23:15","v":900},
      {"t":"2003-01-24T23:28","v":450},{"t":"2003-01-24T23:40","v":1500},{"t":"2003-01-24T23:50","v":450},
      {"t":"2003-01-25T00:00","v":900},{"t":"2003-01-25T00:15","v":400},{"t":"2003-01-25T00:30","v":1600},{"t":"2003-01-25T00:45","v":400},
      {"t":"2003-01-25T01:00","v":800},{"t":"2003-01-25T01:15","v":400},{"t":"2003-01-25T01:30","v":2200},{"t":"2003-01-25T01:45","v":400},
      {"t":"2003-01-25T02:00","v":700},{"t":"2003-01-25T02:15","v":400},{"t":"2003-01-25T02:30","v":1500},{"t":"2003-01-25T02:45","v":400},
      {"t":"2003-01-25T03:00","v":600},{"t":"2003-01-25T03:15","v":400},{"t":"2003-01-25T03:30","v":1800},{"t":"2003-01-25T03:45","v":400},
      {"t":"2003-01-25T04:00","v":700},{"t":"2003-01-25T04:15","v":400},{"t":"2003-01-25T04:25","v":1830},{"t":"2003-01-25T04:35","v":400},
      {"t":"2003-01-25T04:45","v":600},{"t":"2003-01-25T05:00","v":800},{"t":"2003-01-25T05:10","v":400},{"t":"2003-01-25T05:15","v":700},
      {"t":"2003-01-25T05:21","v":4950},{"t":"2003-01-25T05:30","v":15600},{"t":"2003-01-25T05:40","v":18340},{"t":"2003-01-25T05:46","v":7000},
      {"t":"2003-01-25T05:52","v":8360},{"t":"2003-01-25T06:00","v":6500},{"t":"2003-01-25T06:10","v":12000},{"t":"2003-01-25T06:20","v":6000},
      {"t":"2003-01-25T06:36","v":13190},{"t":"2003-01-25T06:45","v":6000},{"t":"2003-01-25T06:56","v":13350},{"t":"2003-01-25T07:05","v":5500},
      {"t":"2003-01-25T07:15","v":9000},{"t":"2003-01-25T07:25","v":5500},{"t":"2003-01-25T07:40","v":11000},{"t":"2003-01-25T07:45","v":6000},
      {"t":"2003-01-25T07:48","v":46630},{"t":"2003-01-25T07:52","v":5500},{"t":"2003-01-25T07:55","v":12000},{"t":"2003-01-25T08:02","v":5000},
      {"t":"2003-01-25T08:10","v":15800},{"t":"2003-01-25T08:17","v":5000},{"t":"2003-01-25T08:23","v":41810},{"t":"2003-01-25T08:27","v":5000},
      {"t":"2003-01-25T08:30","v":9000},{"t":"2003-01-25T08:38","v":4500},{"t":"2003-01-25T08:44","v":34620},{"t":"2003-01-25T08:50","v":4500},
      {"t":"2003-01-25T08:55","v":9000},{"t":"2003-01-25T09:05","v":4500},{"t":"2003-01-25T09:15","v":10000},{"t":"2003-01-25T09:25","v":4000},
      {"t":"2003-01-25T09:38","v":12680},{"t":"2003-01-25T09:44","v":4000},{"t":"2003-01-25T09:50","v":7000},{"t":"2003-01-25T09:58","v":3500},
      {"t":"2003-01-25T10:05","v":4600},{"t":"2003-01-25T10:12","v":3500},{"t":"2003-01-25T10:20","v":7500},{"t":"2003-01-25T10:30","v":3000},
      {"t":"2003-01-25T10:36","v":3500},{"t":"2003-01-25T10:39","v":41330},{"t":"2003-01-25T10:43","v":3500},{"t":"2003-01-25T10:47","v":11270},
      {"t":"2003-01-25T10:53","v":3000},{"t":"2003-01-25T11:00","v":6000},{"t":"2003-01-25T11:08","v":2800},{"t":"2003-01-25T11:17","v":5700},
      {"t":"2003-01-25T11:28","v":2600},{"t":"2003-01-25T11:40","v":4500},{"t":"2003-01-25T11:50","v":2500},{"t":"2003-01-25T12:00","v":5200},
      {"t":"2003-01-25T12:15","v":2400},{"t":"2003-01-25T12:30","v":3550},{"t":"2003-01-25T12:45","v":2200},{"t":"2003-01-25T13:00","v":4200},
      {"t":"2003-01-25T13:15","v":2000},{"t":"2003-01-25T13:30","v":3000},{"t":"2003-01-25T13:45","v":1900},{"t":"2003-01-25T14:00","v":3400},
      {"t":"2003-01-25T14:15","v":1800},{"t":"2003-01-25T14:30","v":2600},{"t":"2003-01-25T14:45","v":1700},{"t":"2003-01-25T15:00","v":2900},
      {"t":"2003-01-25T15:15","v":1600},{"t":"2003-01-25T15:30","v":2300},{"t":"2003-01-25T15:45","v":1500},{"t":"2003-01-25T16:00","v":2600},
      {"t":"2003-01-25T16:15","v":1400},{"t":"2003-01-25T16:30","v":2000},{"t":"2003-01-25T16:45","v":1300},{"t":"2003-01-25T17:00","v":2200},
      {"t":"2003-01-25T17:15","v":1200},{"t":"2003-01-25T17:30","v":1800},{"t":"2003-01-25T17:45","v":1100},{"t":"2003-01-25T18:00","v":2000},
      {"t":"2003-01-25T18:15","v":1000},{"t":"2003-01-25T18:30","v":1600},{"t":"2003-01-25T18:45","v":950},{"t":"2003-01-25T19:00","v":1530},
      {"t":"2003-01-25T19:15","v":900},{"t":"2003-01-25T19:30","v":1400},{"t":"2003-01-25T19:45","v":850},{"t":"2003-01-25T20:00","v":1300},
      {"t":"2003-01-25T20:15","v":800},{"t":"2003-01-25T20:30","v":1200},{"t":"2003-01-25T20:45","v":750},{"t":"2003-01-25T21:00","v":1100},
      {"t":"2003-01-25T21:15","v":700},{"t":"2003-01-25T21:30","v":1000},{"t":"2003-01-25T21:45","v":650},{"t":"2003-01-25T22:00","v":1050},
      {"t":"2003-01-25T22:15","v":600},{"t":"2003-01-25T22:30","v":900},{"t":"2003-01-25T22:45","v":600},{"t":"2003-01-25T23:00","v":950},
      {"t":"2003-01-25T23:15","v":550},{"t":"2003-01-25T23:30","v":850},{"t":"2003-01-25T23:45","v":550},
      {"t":"2003-01-26T00:00","v":850},{"t":"2003-01-26T00:15","v":450},{"t":"2003-01-26T00:25","v":7610},{"t":"2003-01-26T00:30","v":800},
      {"t":"2003-01-26T00:45","v":450},{"t":"2003-01-26T01:00","v":1000},{"t":"2003-01-26T01:15","v":450},{"t":"2003-01-26T01:29","v":6650},
      {"t":"2003-01-26T01:35","v":700},{"t":"2003-01-26T01:45","v":450},{"t":"2003-01-26T02:00","v":900},{"t":"2003-01-26T02:15","v":450},
      {"t":"2003-01-26T02:30","v":700},{"t":"2003-01-26T02:45","v":400},{"t":"2003-01-26T03:00","v":1000},{"t":"2003-01-26T03:15","v":450},
      {"t":"2003-01-26T03:30","v":800},{"t":"2003-01-26T03:45","v":400},{"t":"2003-01-26T04:00","v":1200},{"t":"2003-01-26T04:15","v":450},
      {"t":"2003-01-26T04:30","v":900},{"t":"2003-01-26T04:45","v":450},{"t":"2003-01-26T05:00","v":600},{"t":"2003-01-26T05:10","v":1530},
      {"t":"2003-01-26T05:20","v":500},{"t":"2003-01-26T05:30","v":1000},{"t":"2003-01-26T05:45","v":450},{"t":"2003-01-26T06:00","v":1300},
      {"t":"2003-01-26T06:15","v":500},{"t":"2003-01-26T06:30","v":1100},{"t":"2003-01-26T06:45","v":500},{"t":"2003-01-26T07:00","v":1500},
      {"t":"2003-01-26T07:15","v":600},{"t":"2003-01-26T07:25","v":4500},{"t":"2003-01-26T07:32","v":700},{"t":"2003-01-26T07:38","v":6240},
      {"t":"2003-01-26T07:44","v":700},{"t":"2003-01-26T07:50","v":2000},{"t":"2003-01-26T07:56","v":600},{"t":"2003-01-26T08:02","v":13360},
      {"t":"2003-01-26T08:08","v":11270},{"t":"2003-01-26T08:14","v":600},{"t":"2003-01-26T08:20","v":1500},{"t":"2003-01-26T08:30","v":500},
      {"t":"2003-01-26T08:38","v":3900},{"t":"2003-01-26T08:45","v":500},{"t":"2003-01-26T08:50","v":1000},{"t":"2003-01-26T09:00","v":450},
      {"t":"2003-01-26T09:15","v":900},{"t":"2003-01-26T09:30","v":800},{"t":"2003-01-26T09:45","v":450},{"t":"2003-01-26T10:00","v":1200},
      {"t":"2003-01-26T10:15","v":450},{"t":"2003-01-26T10:30","v":900},{"t":"2003-01-26T10:45","v":450},{"t":"2003-01-26T11:00","v":1000},
      {"t":"2003-01-26T11:15","v":450},{"t":"2003-01-26T11:30","v":800},{"t":"2003-01-26T11:45","v":450},{"t":"2003-01-26T12:00","v":1100},
      {"t":"2003-01-26T12:15","v":450},{"t":"2003-01-26T12:30","v":900},{"t":"2003-01-26T12:45","v":450},{"t":"2003-01-26T13:00","v":1000},
      {"t":"2003-01-26T13:08","v":450},{"t":"2003-01-26T13:15","v":5000},{"t":"2003-01-26T13:20","v":500},{"t":"2003-01-26T13:26","v":36920},
      {"t":"2003-01-26T13:30","v":500},{"t":"2003-01-26T13:33","v":3000},{"t":"2003-01-26T13:37","v":500},{"t":"2003-01-26T13:41","v":20590},
      {"t":"2003-01-26T13:45","v":500},{"t":"2003-01-26T13:48","v":3000},{"t":"2003-01-26T13:52","v":500},{"t":"2003-01-26T13:55","v":18520},
      {"t":"2003-01-26T14:00","v":500},{"t":"2003-01-26T14:03","v":2500},{"t":"2003-01-26T14:07","v":500},{"t":"2003-01-26T14:11","v":21960},
      {"t":"2003-01-26T14:15","v":600},{"t":"2003-01-26T14:18","v":12000},{"t":"2003-01-26T14:21","v":500},{"t":"2003-01-26T14:25","v":2000},
      {"t":"2003-01-26T14:33","v":500},{"t":"2003-01-26T14:40","v":23000},{"t":"2003-01-26T14:44","v":500},{"t":"2003-01-26T14:48","v":11500},
      {"t":"2003-01-26T14:52","v":500},{"t":"2003-01-26T14:56","v":2000},{"t":"2003-01-26T15:05","v":500},{"t":"2003-01-26T15:13","v":26430},
      {"t":"2003-01-26T15:17","v":600},{"t":"2003-01-26T15:22","v":18000},{"t":"2003-01-26T15:26","v":500},{"t":"2003-01-26T15:29","v":1500},
      {"t":"2003-01-26T15:33","v":500},{"t":"2003-01-26T15:37","v":17400},{"t":"2003-01-26T15:41","v":500},{"t":"2003-01-26T15:46","v":16200},
      {"t":"2003-01-26T15:50","v":500},{"t":"2003-01-26T15:55","v":2200},{"t":"2003-01-26T16:02","v":500},{"t":"2003-01-26T16:08","v":13000},
      {"t":"2003-01-26T16:13","v":500},{"t":"2003-01-26T16:20","v":1500},{"t":"2003-01-26T16:35","v":500},{"t":"2003-01-26T16:55","v":29420},
      {"t":"2003-01-26T17:00","v":450},{"t":"2003-01-26T17:05","v":850},{"t":"2003-01-26T17:15","v":450},{"t":"2003-01-26T17:30","v":1200},
      {"t":"2003-01-26T17:45","v":450},{"t":"2003-01-26T18:00","v":500},{"t":"2003-01-26T18:06","v":31250},{"t":"2003-01-26T18:10","v":500},
      {"t":"2003-01-26T18:14","v":1200},{"t":"2003-01-26T18:25","v":450},{"t":"2003-01-26T18:40","v":900},{"t":"2003-01-26T18:50","v":450},
      {"t":"2003-01-26T19:00","v":1300},{"t":"2003-01-26T19:15","v":450},{"t":"2003-01-26T19:30","v":800},{"t":"2003-01-26T19:45","v":450},
      {"t":"2003-01-26T20:00","v":1100},{"t":"2003-01-26T20:15","v":450},{"t":"2003-01-26T20:30","v":900},{"t":"2003-01-26T20:45","v":450},
      {"t":"2003-01-26T21:00","v":1200},{"t":"2003-01-26T21:15","v":450},{"t":"2003-01-26T21:30","v":800},{"t":"2003-01-26T21:45","v":450},
      {"t":"2003-01-26T22:00","v":1000},{"t":"2003-01-26T22:15","v":450},{"t":"2003-01-26T22:30","v":700},{"t":"2003-01-26T22:45","v":400},
      {"t":"2003-01-26T23:00","v":900},{"t":"2003-01-26T23:15","v":450},{"t":"2003-01-26T23:30","v":800},{"t":"2003-01-26T23:45","v":450},
      {"t":"2003-01-27T00:00","v":1000},{"t":"2003-01-27T00:15","v":450},{"t":"2003-01-27T00:30","v":800},{"t":"2003-01-27T00:45","v":450},
      {"t":"2003-01-27T01:00","v":1100},{"t":"2003-01-27T01:15","v":450},{"t":"2003-01-27T01:30","v":700},{"t":"2003-01-27T01:45","v":400},
      {"t":"2003-01-27T02:00","v":1200},{"t":"2003-01-27T02:15","v":450},{"t":"2003-01-27T02:30","v":800},{"t":"2003-01-27T02:45","v":450},
      {"t":"2003-01-27T03:00","v":1000},{"t":"2003-01-27T03:15","v":450},{"t":"2003-01-27T03:30","v":900},{"t":"2003-01-27T03:45","v":450},
      {"t":"2003-01-27T04:00","v":1100},{"t":"2003-01-27T04:15","v":500},{"t":"2003-01-27T04:25","v":450},{"t":"2003-01-27T04:31","v":8900},
      {"t":"2003-01-27T04:37","v":900},{"t":"2003-01-27T04:45","v":450},{"t":"2003-01-27T05:00","v":1200},{"t":"2003-01-27T05:15","v":450},
      {"t":"2003-01-27T05:30","v":800},{"t":"2003-01-27T05:45","v":450},{"t":"2003-01-27T06:00","v":1300},{"t":"2003-01-27T06:15","v":500},
      {"t":"2003-01-27T06:30","v":1000},{"t":"2003-01-27T06:45","v":500},{"t":"2003-01-27T06:56","v":4600},{"t":"2003-01-27T07:03","v":1000},
      {"t":"2003-01-27T07:15","v":500},{"t":"2003-01-27T07:30","v":1400},{"t":"2003-01-27T07:45","v":500},{"t":"2003-01-27T08:00","v":900},
      {"t":"2003-01-27T08:15","v":500},{"t":"2003-01-27T08:30","v":1500},{"t":"2003-01-27T08:45","v":500},{"t":"2003-01-27T09:00","v":1000},
      {"t":"2003-01-27T09:15","v":500},{"t":"2003-01-27T09:30","v":600},{"t":"2003-01-27T09:36","v":3550},{"t":"2003-01-27T09:45","v":1100},
      {"t":"2003-01-27T09:55","v":500},{"t":"2003-01-27T10:05","v":4950},{"t":"2003-01-27T10:12","v":1000},{"t":"2003-01-27T10:20","v":500},
      {"t":"2003-01-27T10:30","v":1500},{"t":"2003-01-27T10:45","v":500},{"t":"2003-01-27T11:00","v":900},{"t":"2003-01-27T11:15","v":500},
      {"t":"2003-01-27T11:30","v":1400},{"t":"2003-01-27T11:45","v":500},{"t":"2003-01-27T12:00","v":1000},{"t":"2003-01-27T12:15","v":500},
      {"t":"2003-01-27T12:30","v":1600},{"t":"2003-01-27T12:45","v":500},{"t":"2003-01-27T13:00","v":900},{"t":"2003-01-27T13:15","v":500},
      {"t":"2003-01-27T13:30","v":1300},{"t":"2003-01-27T13:45","v":500},{"t":"2003-01-27T14:00","v":1000},{"t":"2003-01-27T14:15","v":500},
      {"t":"2003-01-27T14:30","v":1500},{"t":"2003-01-27T14:45","v":500},{"t":"2003-01-27T14:53","v":2550},{"t":"2003-01-27T15:00","v":900},
      {"t":"2003-01-27T15:15","v":500},{"t":"2003-01-27T15:30","v":1300},{"t":"2003-01-27T15:45","v":500},{"t":"2003-01-27T16:00","v":1000},
      {"t":"2003-01-27T16:15","v":500},{"t":"2003-01-27T16:30","v":1400},{"t":"2003-01-27T16:45","v":500},{"t":"2003-01-27T17:00","v":900},
      {"t":"2003-01-27T17:10","v":500},{"t":"2003-01-27T17:20","v":3000},{"t":"2003-01-27T17:30","v":600},{"t":"2003-01-27T17:40","v":14110},
      {"t":"2003-01-27T17:47","v":700},{"t":"2003-01-27T17:53","v":9000},{"t":"2003-01-27T18:00","v":2000},{"t":"2003-01-27T18:08","v":600},
      {"t":"2003-01-27T18:16","v":13190},{"t":"2003-01-27T18:22","v":700},{"t":"2003-01-27T18:29","v":9000},{"t":"2003-01-27T18:35","v":700},
      {"t":"2003-01-27T18:40","v":3000},{"t":"2003-01-27T18:50","v":500},{"t":"2003-01-27T19:00","v":1000},{"t":"2003-01-27T19:15","v":500},
      {"t":"2003-01-27T19:30","v":1400},{"t":"2003-01-27T19:45","v":500},{"t":"2003-01-27T20:00","v":800},{"t":"2003-01-27T20:15","v":450},
      {"t":"2003-01-27T20:30","v":1200},{"t":"2003-01-27T20:45","v":450},{"t":"2003-01-27T21:00","v":900},{"t":"2003-01-27T21:15","v":450},
      {"t":"2003-01-27T21:30","v":1300},{"t":"2003-01-27T21:45","v":450},{"t":"2003-01-27T22:00","v":800},{"t":"2003-01-27T22:05","v":2350},
      {"t":"2003-01-27T22:12","v":450},{"t":"2003-01-27T22:30","v":1000},{"t":"2003-01-27T22:45","v":450},{"t":"2003-01-27T23:00","v":900},
      {"t":"2003-01-27T23:05","v":2000},{"t":"2003-01-27T23:12","v":450},{"t":"2003-01-27T23:30","v":1100},{"t":"2003-01-27T23:45","v":450},
      {"t":"2003-01-28T00:00","v":900}
    ]
  },
  "vconcat": [
    {
      "width": 1809,
      "height": 556,
      "layer": [
        {
          "data": {"name": "ripe"},
          "mark": {"type": "line", "strokeWidth": 3.5},
          "encoding": {
            "x": {
              "field": "t", "type": "temporal",
              "scale": {"domain": [{"year": 2003, "month": 1, "date": 23}, {"year": 2003, "month": 1, "date": 28}]},
              "axis": {
                "orient": "bottom", "format": "%m/%d",
                "values": [{"year": 2003, "month": 1, "date": 23}, {"year": 2003, "month": 1, "date": 24}, {"year": 2003, "month": 1, "date": 25}, {"year": 2003, "month": 1, "date": 26}, {"year": 2003, "month": 1, "date": 27}, {"year": 2003, "month": 1, "date": 28}],
                "labelColor": "#262626", "labelBaseline": "alphabetic", "labelPadding": 90,
                "domainColor": "#262626", "tickColor": "#262626",
                "title": "Date", "titleFontSize": 62, "titleColor": "#262626", "titleY": 156, "titleBaseline": "alphabetic"
              }
            },
            "y": {
              "field": "v", "type": "quantitative",
              "scale": {"domain": [0, 5000], "nice": false},
              "axis": {
                "orient": "left", "values": [0, 1000, 2000, 3000, 4000, 5000],
                "labelExpr": "format(datum.value / 1000, 'd')",
                "labelColor": "#0072BD", "domainColor": "#0072BD", "tickColor": "#0072BD", "labelPadding": 39,
                "title": "Number of BGP announcements", "titleFontSize": 75, "titleColor": "#262626",
                "titleAngle": 270, "titleAlign": "center", "titleBaseline": "alphabetic", "titleX": -102, "titleY": 708
              }
            },
            "color": {
              "datum": "BGP announcement",
              "scale": {"domain": ["BGP announcement", "Class"], "range": ["#0072BD", "#D95319"]},
              "legend": {
                "orient": "none", "legendX": 84, "legendY": 25, "title": null, "padding": 0,
                "symbolType": "stroke", "symbolSize": 15129, "symbolStrokeWidth": 3,
                "labelFontSize": 58, "labelColor": "#000000", "labelLimit": 2000, "labelOffset": 44, "rowPadding": 18,
                "labelExpr": "datum.value === 'Class' ? ['Class 0: regular', 'Class 1: anomaly'] : datum.label",
                "encode": {
                  "symbols": {"update": {
                    "strokeDash": {"signal": "datum.value === 'Class' ? [7, 9] : [1, 0]"},
                    "strokeWidth": {"signal": "datum.value === 'Class' ? 7 : 3"}
                  }},
                  "labels": {"update": {
                    "lineHeight": {"value": 80},
                    "dy": {"signal": "datum.value === 'Class' ? -36 : 0"}
                  }}
                }
              }
            }
          }
        },
        {
          "layer": [
            {
              "data": {"name": "cls"},
              "mark": {"type": "line", "interpolate": "step-after", "strokeWidth": 7, "strokeDash": [7, 9]},
              "encoding": {
                "x": {
                  "field": "t", "type": "temporal",
                  "scale": {"domain": [{"year": 2003, "month": 1, "date": 23}, {"year": 2003, "month": 1, "date": 28}]},
                  "axis": {
                    "orient": "top", "labels": false,
                    "values": [{"year": 2003, "month": 1, "date": 23}, {"year": 2003, "month": 1, "date": 24}, {"year": 2003, "month": 1, "date": 25}, {"year": 2003, "month": 1, "date": 26}, {"year": 2003, "month": 1, "date": 27}, {"year": 2003, "month": 1, "date": 28}],
                    "domainColor": "#262626", "tickColor": "#262626",
                    "title": "×10", "titleColor": "#0072BD", "titleFontSize": 58, "titleAngle": 0,
                    "titleAlign": "left", "titleBaseline": "alphabetic", "titleX": 10, "titleY": -12
                  }
                },
                "y": {
                  "field": "c", "type": "quantitative",
                  "scale": {"domain": [-0.5, 1.5], "nice": false},
                  "axis": {
                    "orient": "right", "values": [0, 1], "format": "d",
                    "labelColor": "#D95319", "domainColor": "#D95319", "tickColor": "#D95319", "labelPadding": 39,
                    "title": "3", "titleColor": "#0072BD", "titleFontSize": 46, "titleAngle": 0,
                    "titleAlign": "left", "titleBaseline": "alphabetic", "titleX": -1698, "titleY": -40
                  }
                },
                "color": {"datum": "Class"}
              }
            },
            {
              "data": {"values": [{"t": "2003-01-27T21:20", "c": 1.25, "label": "RIPE: Slammer"}]},
              "mark": {"type": "text", "align": "right", "baseline": "middle", "fontSize": 58, "color": "#000000"},
              "encoding": {
                "x": {"field": "t", "type": "temporal"},
                "y": {"field": "c", "type": "quantitative"},
                "text": {"field": "label"}
              }
            }
          ]
        }
      ],
      "resolve": {"scale": {"y": "independent"}, "axis": {"x": "independent", "y": "independent"}}
    },
    {
      "width": 1809,
      "height": 556,
      "layer": [
        {
          "data": {"name": "rv"},
          "mark": {"type": "line", "strokeWidth": 3.5},
          "encoding": {
            "x": {
              "field": "t", "type": "temporal",
              "scale": {"domain": [{"year": 2003, "month": 1, "date": 23}, {"year": 2003, "month": 1, "date": 28}]},
              "axis": {
                "orient": "bottom", "format": "%m/%d",
                "values": [{"year": 2003, "month": 1, "date": 23}, {"year": 2003, "month": 1, "date": 24}, {"year": 2003, "month": 1, "date": 25}, {"year": 2003, "month": 1, "date": 26}, {"year": 2003, "month": 1, "date": 27}, {"year": 2003, "month": 1, "date": 28}],
                "labelColor": "#262626", "labelBaseline": "alphabetic", "labelPadding": 90,
                "domainColor": "#262626", "tickColor": "#262626",
                "title": "Date", "titleFontSize": 62, "titleColor": "#262626", "titleY": 156, "titleBaseline": "alphabetic"
              }
            },
            "y": {
              "field": "v", "type": "quantitative",
              "scale": {"domain": [0, 50000], "nice": false},
              "axis": {
                "orient": "left", "values": [0, 10000, 20000, 30000, 40000, 50000],
                "labelExpr": "format(datum.value / 10000, 'd')",
                "labelColor": "#0072BD", "domainColor": "#0072BD", "tickColor": "#0072BD", "labelPadding": 39,
                "title": null
              }
            },
            "color": {
              "datum": "BGP announcement",
              "scale": {"domain": ["BGP announcement", "Class"], "range": ["#0072BD", "#D95319"]},
              "legend": {
                "orient": "none", "legendX": 75, "legendY": 34, "title": null, "padding": 0,
                "symbolType": "stroke", "symbolSize": 15129, "symbolStrokeWidth": 3,
                "labelFontSize": 58, "labelColor": "#000000", "labelLimit": 2000, "labelOffset": 47, "rowPadding": 10,
                "labelExpr": "datum.value === 'Class' ? ['Class 0: regular', 'Class 1: anomaly'] : datum.label",
                "encode": {
                  "symbols": {"update": {
                    "strokeDash": {"signal": "datum.value === 'Class' ? [7, 9] : [1, 0]"},
                    "strokeWidth": {"signal": "datum.value === 'Class' ? 7 : 3"}
                  }},
                  "labels": {"update": {
                    "lineHeight": {"value": 82},
                    "dy": {"signal": "datum.value === 'Class' ? -41 : 0"}
                  }}
                }
              }
            }
          }
        },
        {
          "layer": [
            {
              "data": {"name": "cls"},
              "mark": {"type": "line", "interpolate": "step-after", "strokeWidth": 7, "strokeDash": [7, 9]},
              "encoding": {
                "x": {
                  "field": "t", "type": "temporal",
                  "scale": {"domain": [{"year": 2003, "month": 1, "date": 23}, {"year": 2003, "month": 1, "date": 28}]},
                  "axis": {
                    "orient": "top", "labels": false,
                    "values": [{"year": 2003, "month": 1, "date": 23}, {"year": 2003, "month": 1, "date": 24}, {"year": 2003, "month": 1, "date": 25}, {"year": 2003, "month": 1, "date": 26}, {"year": 2003, "month": 1, "date": 27}, {"year": 2003, "month": 1, "date": 28}],
                    "domainColor": "#262626", "tickColor": "#262626",
                    "title": "×10", "titleColor": "#0072BD", "titleFontSize": 58, "titleAngle": 0,
                    "titleAlign": "left", "titleBaseline": "alphabetic", "titleX": 9, "titleY": -13
                  }
                },
                "y": {
                  "field": "c", "type": "quantitative",
                  "scale": {"domain": [-0.5, 1.5], "nice": false},
                  "axis": {
                    "orient": "right", "values": [0, 1], "format": "d",
                    "labelColor": "#D95319", "domainColor": "#D95319", "tickColor": "#D95319", "labelPadding": 39,
                    "title": "4", "titleColor": "#0072BD", "titleFontSize": 46, "titleAngle": 0,
                    "titleAlign": "left", "titleBaseline": "alphabetic", "titleX": -1697, "titleY": -42
                  }
                },
                "color": {"datum": "Class"}
              }
            },
            {
              "data": {"values": [{"t": "2003-01-27T21:15", "c": 1.255, "label": "Route Views: Slammer"}]},
              "mark": {"type": "text", "align": "right", "baseline": "middle", "fontSize": 58, "color": "#000000"},
              "encoding": {
                "x": {"field": "t", "type": "temporal"},
                "y": {"field": "c", "type": "quantitative"},
                "text": {"field": "label"}
              }
            }
          ]
        }
      ],
      "resolve": {"scale": {"y": "independent"}, "axis": {"x": "independent", "y": "independent"}}
    }
  ],
  "resolve": {"scale": {"color": "independent"}, "legend": {"color": "independent"}}
}
